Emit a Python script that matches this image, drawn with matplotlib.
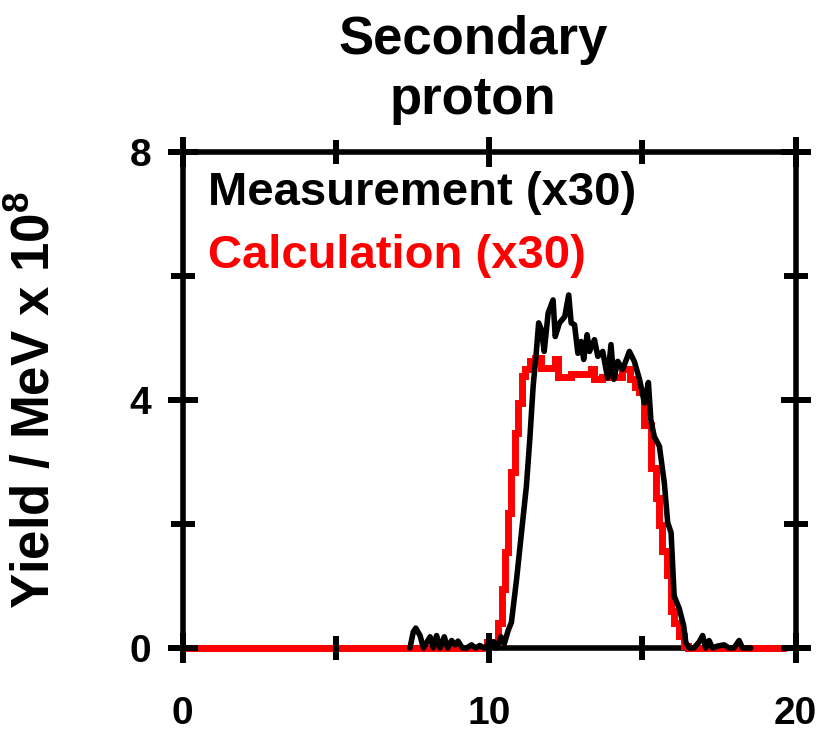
import matplotlib
matplotlib.use('Agg')
import matplotlib.pyplot as plt

plt.rcParams['font.family'] = ['Liberation Sans', 'DejaVu Sans']
plt.rcParams['font.weight'] = 'bold'
plt.rcParams['mathtext.fontset'] = 'custom'
plt.rcParams['mathtext.bf'] = 'Liberation Sans:bold'
plt.rcParams['mathtext.rm'] = 'Liberation Sans:bold'

# calculation (x30), step histogram: left bin edges and values
calc_x = [0, 9.92, 10.3, 10.41, 10.51, 10.62, 10.73, 10.84, 10.95, 11.06,
          11.16, 11.33, 11.49, 11.71, 12.14, 12.25, 12.68, 13.33, 13.43, 13.7,
          14.34, 14.61, 14.75, 14.9, 15.07, 15.28, 15.45, 15.56, 15.66, 15.82,
          15.93, 16.03, 16.2, 16.37, 16.5, 19.6]
calc_y = [0, 0.09, 0.41, 0.95, 1.54, 2.18, 2.83, 3.47, 3.95, 4.38,
          4.49, 4.62, 4.68, 4.52, 4.65, 4.36, 4.41, 4.49, 4.33, 4.36,
          4.5, 4.33, 4.2, 4.12, 3.6, 2.9, 2.42, 1.99, 1.56, 1.18,
          0.59, 0.41, 0.2, 0.03, 0, 0]

# measurement (x30)
meas_x = [7.42, 7.53, 7.61, 7.75, 7.86, 8.08, 8.18, 8.29, 8.4, 8.54,
          8.65, 8.78, 8.89, 8.99, 9.13, 9.27, 9.43, 9.56, 9.7, 9.84,
          9.99, 10.14, 10.25, 10.39, 10.5, 10.63,
          10.73, 10.9, 11.06, 11.22, 11.33, 11.44, 11.54, 11.62, 11.71, 11.8,
          11.93, 12.09, 12.16, 12.3, 12.47, 12.6, 12.68, 12.79, 12.9, 13.0,
          13.09, 13.2, 13.28, 13.44, 13.55, 13.71, 13.87, 13.98, 14.07, 14.2,
          14.36, 14.58, 14.74, 14.91, 15.07, 15.2, 15.28, 15.39, 15.56, 15.72,
          15.83, 15.94, 16.04, 16.21, 16.35, 16.42, 16.53,
          16.69, 16.86, 16.97, 17.07, 17.18, 17.29, 17.45, 17.67, 17.83, 17.99,
          18.16, 18.27, 18.54]
meas_y = [0, 0.26, 0.32, 0.2, 0, 0.18, 0, 0.2, 0, 0.18,
          0, 0.12, 0.05, 0.11, 0, 0, 0.05, 0, 0.04, 0,
          0.05, 0.1, 0, 0.18, 0.07, 0.29,
          0.41, 1.11, 1.86, 2.61, 3.36, 4.22, 4.75, 5.24, 5.13, 4.78,
          5.4, 5.61, 5.02, 5.24, 5.34, 5.69, 5.24, 5.21, 4.75, 4.94,
          4.65, 5.05, 4.78, 4.97, 4.7, 4.78, 4.35, 4.89, 4.33, 4.62,
          4.49, 4.78, 4.62, 4.33, 3.95, 4.28, 3.68, 3.41, 3.25, 2.66,
          2.02, 1.86, 0.84, 0.63, 0.36, 0.09, 0,
          0, 0.1, 0.2, 0, 0.12, 0, 0.03, 0.05, 0, 0,
          0.12, 0, 0]

x_major = [0, 10, 20]
x_minor = [5, 15]
y_major = [0, 4, 8]
y_minor = [2, 6]

fig = plt.figure(figsize=(8.17, 7.32), dpi=100)
ax = fig.add_axes([0.2234, 0.1148, 0.7503, 0.678])

ax.plot(calc_x, calc_y, color='#ff0000', lw=5, drawstyle='steps-post',
        solid_joinstyle='miter', zorder=3, clip_on=False)
ax.plot(meas_x, meas_y, color='black', lw=4, solid_joinstyle='round',
        solid_capstyle='round', zorder=4, clip_on=False)

ax.set_xlim(0, 20)
ax.set_ylim(0, 8)
ax.set_xticks(x_major)
ax.set_xticks(x_minor, minor=True)
ax.set_yticks(y_major)
ax.set_yticks(y_minor, minor=True)
for s in ax.spines.values():
    s.set_linewidth(4)
ax.tick_params(which='both', direction='inout', width=4.3, top=True, right=True)
ax.tick_params(which='major', length=21.5, labelsize=28)
ax.tick_params(which='minor', length=17)
ax.tick_params(axis='x', pad=24)
ax.tick_params(axis='y', pad=12)
# tick marks sit on top of the curves, as in the original
ax.xaxis.set_zorder(5)
ax.yaxis.set_zorder(5)

fig.text(35 / 817, 1 - 400 / 732, 'Yield / MeV x 10$^{\\mathbf{8}}$',
         rotation=90, ha='center', va='center', fontsize=38, fontweight='bold')

ax.text(0.042, 0.892, 'Measurement (x30)', transform=ax.transAxes,
        fontsize=34, fontweight='bold', color='black', va='baseline')
ax.text(0.042, 0.765, 'Calculation (x30)', transform=ax.transAxes,
        fontsize=34, fontweight='bold', color='#ff0000', va='baseline')

fig.text(473 / 817, 1 - 15 / 732, 'Secondary\nproton', ha='center', va='top',
         fontsize=38, fontweight='bold', linespacing=1.25)

fig.savefig('out.png', dpi=100)
